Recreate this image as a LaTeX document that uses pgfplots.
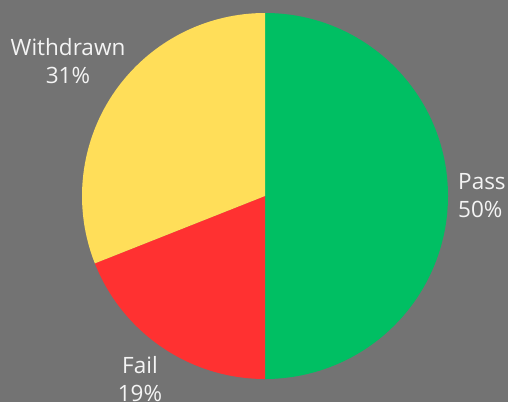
\documentclass[border=0pt]{standalone}
\usepackage{pgfplots}
\pgfplotsset{compat=1.18}
\usepackage{fontspec}
\setmainfont{Open Sans}
\definecolor{bg}{HTML}{737373}
\definecolor{cpass}{HTML}{00BF63}
\definecolor{cfail}{HTML}{FF3131}
\definecolor{cwith}{HTML}{FFDE59}
\definecolor{txt}{HTML}{F4F4F4}
% data (percent)
\def\vPass{50}
\def\vFail{19}
\def\vWith{31}
\begin{document}
\begin{tikzpicture}
\useasboundingbox (0,0) rectangle (508pt,402pt);
\clip (0,0) rectangle (508pt,402pt);
\fill[bg] (0,0) rectangle (508pt,402pt);
\begin{axis}[
  at={(0,0)}, anchor=south west,
  width=508pt, height=402pt, scale only axis,
  xmin=0, xmax=508, ymin=0, ymax=402,
  hide axis, clip=false,
]
\pgfmathsetmacro{\aA}{90}
\pgfmathsetmacro{\aB}{\aA-3.6*\vPass}
\pgfmathsetmacro{\aC}{\aB-3.6*\vFail}
\pgfmathsetmacro{\aD}{\aC-3.6*\vWith}
\fill[cpass] (axis cs:265,206) -- ++(\aA:183pt) arc[start angle=\aA, end angle=\aB, radius=183pt] -- cycle;
\fill[cfail] (axis cs:265,206) -- ++(\aB:183pt) arc[start angle=\aB, end angle=\aC, radius=183pt] -- cycle;
\fill[cwith] (axis cs:265,206) -- ++(\aC:183pt) arc[start angle=\aC, end angle=\aD, radius=183pt] -- cycle;
\node[txt, align=center, font=\fontsize{22.5}{28}\selectfont] at (axis cs:68,341) {Withdrawn\\\vWith\%};
\node[txt, align=left, anchor=west, font=\fontsize{22.5}{28}\selectfont, inner sep=0pt] at (axis cs:458,206) {Pass\\\vPass\%};
\node[txt, align=center, font=\fontsize{22.5}{28}\selectfont] at (axis cs:140,23) {Fail\\\vFail\%};
\end{axis}
\end{tikzpicture}
\end{document}
